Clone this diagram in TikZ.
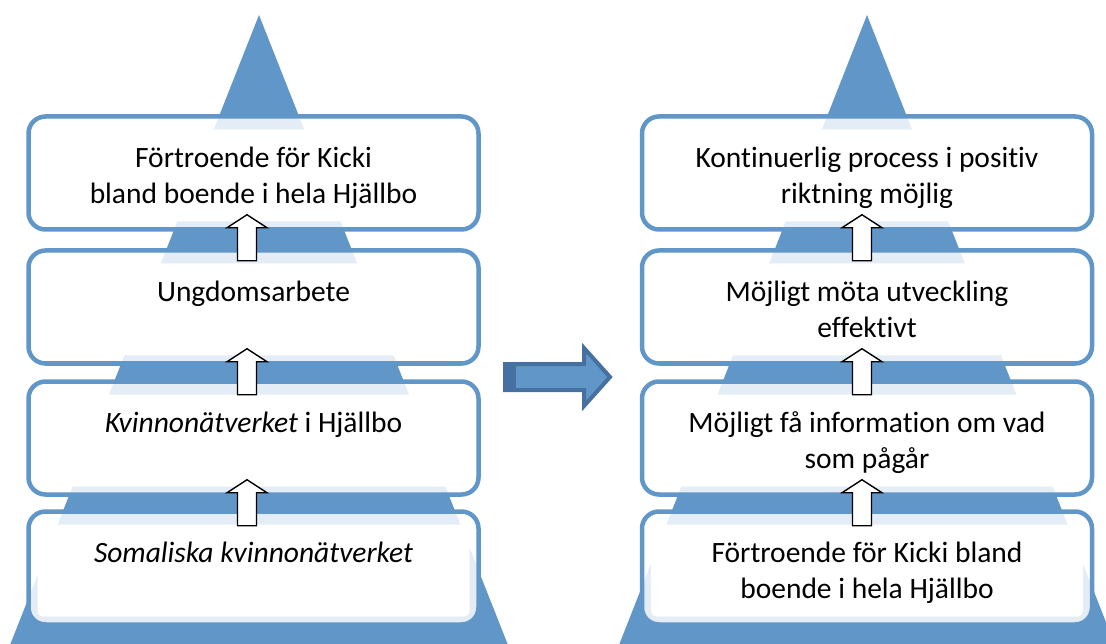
\documentclass[tikz,border=0pt]{standalone}
\usepackage{fontspec}
\setmainfont[Ligatures=NoCommon]{Carlito}
\usetikzlibrary{calc}
\definecolor{pblue}{RGB}{96,150,200}
\definecolor{dblue}{RGB}{70,112,160}
\newcommand\firstln{\rule{0pt}{26pt}}
\newcommand\uparr[2]{%
  \draw[uparrow] (#1) -- ++(20,13) -- ++(-10.5,0) -- ++(0,33) -- ++(-19,0) -- ++(0,-33) -- ++(-10.5,0) -- cycle;}
\begin{document}
\begin{tikzpicture}[x=1pt,y=-1pt,
  box/.style={draw=pblue, line width=4.5pt, rounded corners=17pt, fill=white, fill opacity=0.83, text opacity=1,
    minimum width=450pt, minimum height=113pt, inner sep=0pt,
    path picture={\fill[white, fill opacity=1, rounded corners=6pt]
      ([xshift=9pt,yshift=-13pt]path picture bounding box.north west) rectangle
      ([xshift=-9pt,yshift=8pt]path picture bounding box.south east);}},
  lbl/.style={anchor=north, inner sep=0pt, align=center, font=\fontsize{29.5}{36}\selectfont},
  uparrow/.style={draw=black, line width=1.4pt, fill=white, line join=miter},
  bigarrow/.style={fill=pblue, draw=dblue, line width=4pt, line join=miter}]
\useasboundingbox (0,0) rectangle (1106,644);
\clip (0,0) rectangle (1106,644);
% pyramids
\fill[pblue] (259,15) -- (10,645) -- (508,645) -- cycle;
\fill[pblue] (867,15) -- (619,645) -- (1115,645) -- cycle;
% left boxes
\node[box] (L1) at (253.5,173) {};
\node[box] (L2) at (253.5,307) {};
\node[box] (L3) at (253.5,438) {};
\node[box] (L4) at (253.5,568) {};
% right boxes
\node[box] (R1) at (867,173) {};
\node[box] (R2) at (867,307) {};
\node[box] (R3) at (867,438) {};
\node[box] (R4) at (867,568) {};
% labels
\node[lbl] (tL1) at ([yshift=-27pt]L1.north) {\firstln Förtroende för Kicki\\bland boende i hela Hjällbo};
\node[lbl] (tL2) at ([yshift=-27pt]L2.north) {\firstln Ungdomsarbete};
\node[lbl] (tL3) at ([yshift=-27pt]L3.north) {\firstln\textit{Kvinnonätverket} i Hjällbo};
\node[lbl] (tL4) at ([yshift=-27pt]L4.north) {\firstln\textit{Somaliska kvinnonätverket}};
\node[lbl] (tR1) at ([yshift=-27pt]R1.north) {\firstln Kontinuerlig process i positiv\\riktning möjlig};
\node[lbl] (tR2) at ([yshift=-27pt]R2.north) {\firstln Möjligt möta utveckling\\effektivt};
\node[lbl] (tR3) at ([yshift=-27pt]R3.north) {\firstln Möjligt få information om vad\\som pågår};
\node[lbl] (tR4) at ([yshift=-27pt]R4.north) {\firstln Förtroende för Kicki bland\\boende i hela Hjällbo};
% small up arrows
\coordinate (aL1) at ($(L1.south)+(-6.5,-17)$);
\coordinate (aL2) at ($(L2.south)+(-6.5,-17)$);
\coordinate (aL3) at ($(L3.south)+(-6.5,-17)$);
\coordinate (aR1) at ($(R1.south)+(-5,-17)$);
\coordinate (aR2) at ($(R2.south)+(-5,-17)$);
\coordinate (aR3) at ($(R3.south)+(-5,-17)$);
\uparr{aL1}{}
\uparr{aL2}{}
\uparr{aL3}{}
\uparr{aR1}{}
\uparr{aR2}{}
\uparr{aR3}{}
% big arrow
\draw[bigarrow] (505,364) -- (584,364) -- (584,348) -- (610,377) -- (584,406) -- (584,390) -- (505,390) -- cycle;
\fill[dblue] (503,362) rectangle (516,392);
\end{tikzpicture}
\end{document}
